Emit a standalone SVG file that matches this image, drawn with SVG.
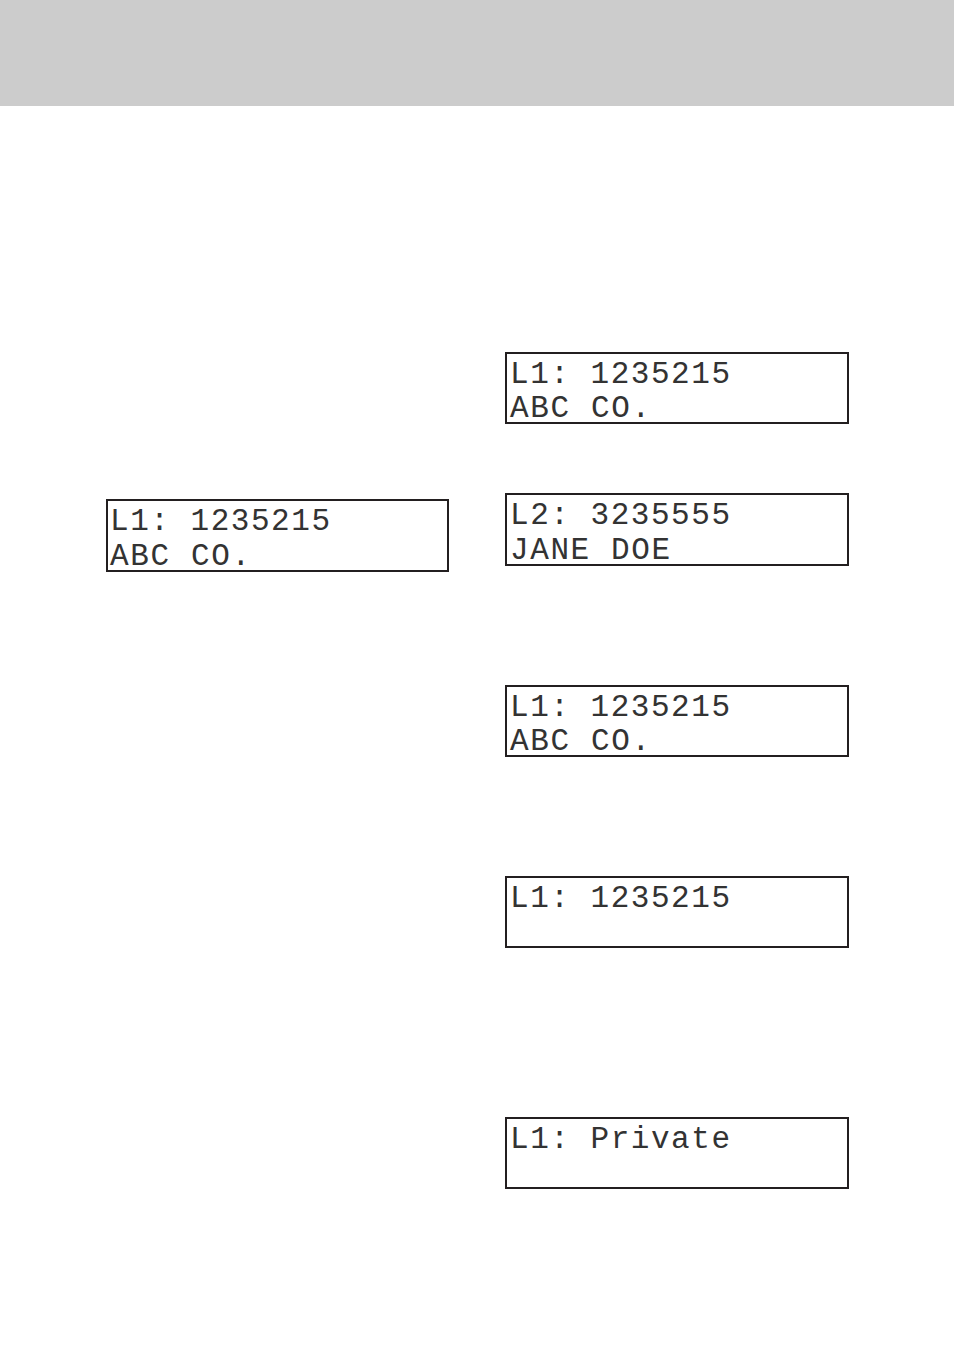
<svg xmlns="http://www.w3.org/2000/svg" width="954" height="1355" viewBox="0 0 954 1355">
<style>
.box{fill:#fff;stroke:#231f20;stroke-width:2}
.lcd{font-family:"Liberation Mono",monospace;font-size:31px;fill:#333}
</style>
<rect x="0" y="0" width="954" height="106" fill="#cccccc"/>
<g id="d0"><rect class="box" x="107" y="500" width="341" height="71"/>
<text class="lcd" x="110" y="530" textLength="220">L1: 1235215</text>
<text class="lcd" x="110" y="565" textLength="140">ABC CO.</text></g>
<g id="d1"><rect class="box" x="506" y="353" width="342" height="70"/>
<text class="lcd" x="510" y="383" textLength="220">L1: 1235215</text>
<text class="lcd" x="510" y="417" textLength="140">ABC CO.</text></g>
<g id="d2"><rect class="box" x="506" y="494" width="342" height="71"/>
<text class="lcd" x="510" y="524" textLength="220">L2: 3235555</text>
<text class="lcd" x="510" y="559" textLength="160">JANE DOE</text></g>
<g id="d3"><rect class="box" x="506" y="686" width="342" height="70"/>
<text class="lcd" x="510" y="716" textLength="220">L1: 1235215</text>
<text class="lcd" x="510" y="750" textLength="140">ABC CO.</text></g>
<g id="d4"><rect class="box" x="506" y="877" width="342" height="70"/>
<text class="lcd" x="510" y="907" textLength="220">L1: 1235215</text></g>
<g id="d5"><rect class="box" x="506" y="1118" width="342" height="70"/>
<text class="lcd" x="510" y="1148" textLength="220">L1: Private</text></g>
</svg>
